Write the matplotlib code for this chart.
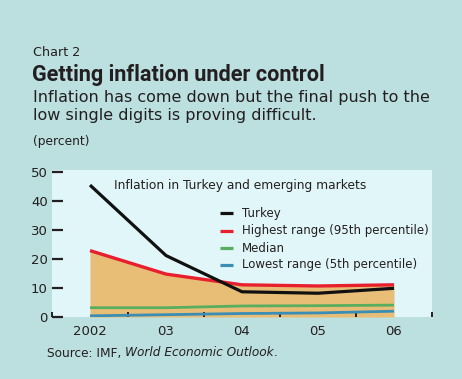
import matplotlib
matplotlib.use("Agg")
import matplotlib.pyplot as plt
from matplotlib.lines import Line2D

# ---- data ----
years = [2002, 2003, 2004, 2005, 2006]
year_labels = ["2002", "03", "04", "05", "06"]
turkey = [45.5, 21.2, 8.7, 8.2, 9.9]
highest = [22.9, 14.8, 11.1, 10.7, 11.1]
median = [3.2, 3.2, 3.8, 3.9, 4.1]
lowest = [0.4, 0.8, 1.2, 1.4, 2.0]
series_names = ["Turkey", "Highest range (95th percentile)", "Median", "Lowest range (5th percentile)"]
y_ticks = [0, 10, 20, 30, 40, 50]

# ---- style ----
FIG_BG = "#bcdfe0"
AX_BG = "#e1f6f8"
FILL = "#e8be76"
TXT = "#231f20"
C_TURKEY = "#111111"
C_HIGH = "#e8202e"
C_MED = "#58ae5e"
C_LOW = "#3a8db5"

plt.rcParams['font.family'] = ['DejaVu Sans']

W, H = 462, 379
fig = plt.figure(figsize=(W / 100, H / 100), dpi=100, facecolor=FIG_BG)

def fx(px):
    return px / W

def fy(py):
    return 1 - py / H

ax_left, ax_right, ax_top, ax_bot = 52, 432, 170, 317
ax = fig.add_axes([fx(ax_left), fy(ax_bot), (ax_right - ax_left) / W, (ax_bot - ax_top) / H])
ax.set_facecolor(AX_BG)
for s in ax.spines.values():
    s.set_visible(False)

ax.fill_between(years, 0, highest, color=FILL, lw=0, zorder=1)
ax.plot(years, lowest, color=C_LOW, lw=2.0, zorder=2, solid_capstyle='butt')
ax.plot(years, median, color=C_MED, lw=2.0, zorder=3, solid_capstyle='butt')
ax.plot(years, highest, color=C_HIGH, lw=2.4, zorder=4, solid_capstyle='butt')
ax.plot(years, turkey, color=C_TURKEY, lw=2.3, zorder=5, solid_capstyle='butt')

ax.set_xlim(2001.5, 2006.5)
ax.set_ylim(0, 50.7)

ax.set_yticks(y_ticks)
ax.set_yticklabels([str(v) for v in y_ticks])
ax.tick_params(axis='y', direction='in', length=8, width=1.6, color=TXT,
               labelsize=9.5, labelcolor=TXT, pad=3)

ax.set_xticks(years)
ax.set_xticklabels(year_labels)
ax.set_xticks([y - 0.5 for y in years] + [years[-1] + 0.5], minor=True)
ax.tick_params(axis='x', which='major', length=0, labelsize=9.5, labelcolor=TXT, pad=5.5)
ax.tick_params(axis='x', which='minor', direction='in', length=3.5, width=1.4, color=TXT)

# inner title
ax.text((240 - ax_left) / (ax_right - ax_left), (ax_bot - 185) / (ax_bot - ax_top),
        "Inflation in Turkey and emerging markets", transform=ax.transAxes,
        ha='center', va='center', fontsize=8.8, color=TXT)

# legend (manual)
colors = [C_TURKEY, C_HIGH, C_MED, C_LOW]
rows = [213, 230.5, 248, 264.5]
for name, c, ry in zip(series_names, colors, rows):
    yy = (ax_bot - ry) / (ax_bot - ax_top)
    ax.add_line(Line2D([(220 - ax_left) / 380, (233 - ax_left) / 380], [yy, yy],
                       transform=ax.transAxes, color=c, lw=2.3, solid_capstyle='butt',
                       clip_on=False, zorder=6))
    ax.text((241.5 - ax_left) / 380, yy, name, transform=ax.transAxes,
            ha='left', va='center', fontsize=8.5, color=TXT)

# header texts
fig.text(fx(33), fy(52), "Chart 2", ha='left', va='center', fontsize=9.2, color=TXT)
fig.text(fx(32), fy(75), "Getting inflation under control", ha='left', va='center',
         fontsize=15.6, fontweight='bold', color=TXT, family='Roboto')
fig.text(fx(33), fy(97.5), "Inflation has come down but the final push to the",
         ha='left', va='center', fontsize=11.5, color=TXT)
fig.text(fx(33), fy(115.5), "low single digits is proving difficult.",
         ha='left', va='center', fontsize=11.5, color=TXT)
fig.text(fx(33), fy(142), "(percent)", ha='left', va='center', fontsize=8.8, color=TXT)

# source line with italic part
renderer = fig.canvas.get_renderer()
t1 = fig.text(fx(47), fy(353), "Source: IMF, ", ha='left', va='center', fontsize=8.7, color=TXT)
bb = t1.get_window_extent(renderer)
t2 = fig.text(bb.x1 / W, fy(353), "World Economic Outlook", ha='left', va='center',
              fontsize=8.7, color=TXT, style='italic')
bb2 = t2.get_window_extent(renderer)
fig.text(bb2.x1 / W, fy(353), ".", ha='left', va='center', fontsize=8.7, color=TXT)

fig.savefig("out.png", dpi=100, facecolor=FIG_BG)
